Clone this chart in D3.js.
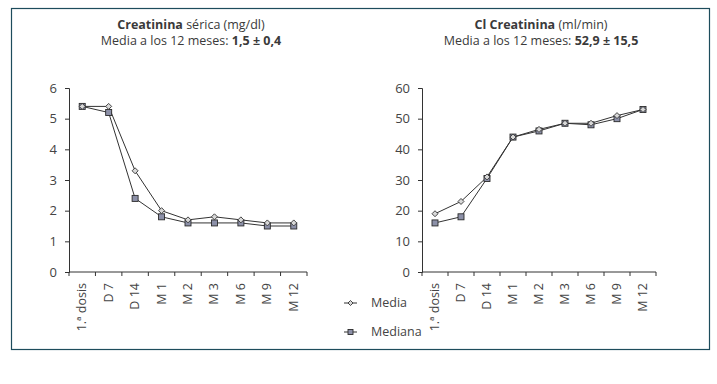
<!DOCTYPE html>
<html>
<head>
<meta charset="utf-8">
<script src="https://cdn.jsdelivr.net/npm/d3@7"></script>
<style>
  body { margin: 0; background: #fff; }
  svg { display: block; font-family: "Open Sans", sans-serif; }
</style>
</head>
<body>
<div id="chart"></div>
<script>
var categories = ["1.ª dosis", "D 7", "D 14", "M 1", "M 2", "M 3", "M 6", "M 9", "M 12"];

var creatMedia   = [5.4, 5.4, 3.3, 2.0, 1.7, 1.8, 1.7, 1.6, 1.6];
var creatMediana = [5.4, 5.2, 2.4, 1.8, 1.6, 1.6, 1.6, 1.5, 1.5];
var creatTicks   = [0, 1, 2, 3, 4, 5, 6];

var clMedia   = [19, 23, 31, 44, 46.5, 48.5, 48.5, 51, 53];
var clMediana = [16, 18, 30.5, 44, 46, 48.5, 48, 50, 53];
var clTicks   = [0, 10, 20, 30, 40, 50, 60];

var width = 717, height = 384;
var textColor = "#3a3a3a";
var lineColor = "#333";

var svg = d3.select("#chart").append("svg")
    .attr("width", width)
    .attr("height", height);

// frame
svg.append("rect")
    .attr("x", 11.5).attr("y", 8.5)
    .attr("width", 698).attr("height", 341)
    .attr("fill", "none")
    .attr("stroke", "#1d4c5c")
    .attr("stroke-width", 1.2);

function drawPanel(opts) {
    var g = svg.append("g");

    var x = d3.scaleBand()
        .domain(categories)
        .range([opts.left, opts.right]);

    var y = d3.scaleLinear()
        .domain([0, opts.max])
        .range([272, 88]);

    // titles
    var t1 = g.append("text")
        .attr("x", opts.titleX).attr("y", 29)
        .attr("text-anchor", "middle")
        .attr("font-size", 12.5)
        .attr("fill", textColor);
    t1.append("tspan").attr("font-weight", "bold").text(opts.titleBold);
    t1.append("tspan").text(opts.titleRest);

    var t2 = g.append("text")
        .attr("x", opts.titleX).attr("y", 45)
        .attr("text-anchor", "middle")
        .attr("font-size", 12.5)
        .attr("fill", textColor);
    t2.append("tspan").text("Media a los 12 meses: ");
    t2.append("tspan").attr("font-weight", "bold").text(opts.titleValue);

    // y axis
    var yAxis = g.append("g")
        .attr("transform", "translate(" + opts.left + ",0)")
        .call(d3.axisLeft(y).tickValues(opts.ticks).tickSize(4).tickPadding(8).tickFormat(d3.format("d")));
    yAxis.select(".domain").attr("stroke", lineColor);
    yAxis.selectAll(".tick line").attr("stroke", lineColor);
    yAxis.selectAll(".tick text")
        .attr("font-size", 13)
        .attr("fill", "#444")
        .attr("font-family", "Open Sans, sans-serif");

    // x axis with ticks on band edges
    var xAxis = g.append("g")
        .attr("transform", "translate(0," + y(0) + ")");
    xAxis.append("line")
        .attr("x1", opts.left).attr("x2", opts.right)
        .attr("stroke", lineColor);
    var edges = categories.map(function(c) { return x(c); }).concat([opts.right]);
    xAxis.selectAll(".xtick").data(edges).enter().append("line")
        .attr("x1", function(d) { return d; })
        .attr("x2", function(d) { return d; })
        .attr("y1", 0).attr("y2", 4)
        .attr("stroke", lineColor);
    xAxis.selectAll(".xlabel").data(categories).enter().append("text")
        .attr("transform", function(d) {
            return "translate(" + (x(d) + x.bandwidth() / 2 + 4) + ",11) rotate(-90)";
        })
        .attr("text-anchor", "end")
        .attr("font-size", 12.5)
        .attr("fill", "#444")
        .text(function(d) { return d; });

    var line = d3.line()
        .x(function(d, i) { return x(categories[i]) + x.bandwidth() / 2; })
        .y(function(d) { return y(d); });

    // Mediana
    g.append("path")
        .datum(opts.mediana)
        .attr("d", line)
        .attr("fill", "none")
        .attr("stroke", lineColor)
        .attr("stroke-width", 1);
    // Media
    g.append("path")
        .datum(opts.media)
        .attr("d", line)
        .attr("fill", "none")
        .attr("stroke", lineColor)
        .attr("stroke-width", 1);

    g.selectAll(".sq").data(opts.mediana).enter().append("rect")
        .attr("x", function(d, i) { return x(categories[i]) + x.bandwidth() / 2 - 3; })
        .attr("y", function(d) { return y(d) - 3; })
        .attr("width", 6).attr("height", 6)
        .attr("fill", "#8c90a8")
        .attr("stroke", "#2a2a2a")
        .attr("stroke-width", 0.9);

    g.selectAll(".dm").data(opts.media).enter().append("path")
        .attr("d", "M0,-3L3,0L0,3L-3,0Z")
        .attr("transform", function(d, i) {
            return "translate(" + (x(categories[i]) + x.bandwidth() / 2) + "," + y(d) + ")";
        })
        .attr("fill", "#d8d8d8")
        .attr("stroke", "#333")
        .attr("stroke-width", 0.9);
}

drawPanel({
    left: 69, right: 307, max: 6, ticks: creatTicks,
    media: creatMedia, mediana: creatMediana,
    titleX: 191, titleBold: "Creatinina", titleRest: " sérica (mg/dl)", titleValue: "1,5 ± 0,4"
});

drawPanel({
    left: 422, right: 656, max: 60, ticks: clTicks,
    media: clMedia, mediana: clMediana,
    titleX: 541, titleBold: "Cl Creatinina", titleRest: " (ml/min)", titleValue: "52,9 ± 15,5"
});

// legend
var legend = svg.append("g");
var legendItems = ["Media", "Mediana"];
var legendY = [303, 332];
legendItems.forEach(function(name, i) {
    var yy = legendY[i];
    legend.append("line")
        .attr("x1", 344).attr("x2", 357)
        .attr("y1", yy).attr("y2", yy)
        .attr("stroke", lineColor);
    if (i === 0) {
        legend.append("path")
            .attr("d", "M0,-2.5L2.5,0L0,2.5L-2.5,0Z")
            .attr("transform", "translate(350.5," + yy + ")")
            .attr("fill", "#d8d8d8")
            .attr("stroke", "#333")
            .attr("stroke-width", 0.9);
    } else {
        legend.append("rect")
            .attr("x", 348).attr("y", yy - 2.5)
            .attr("width", 5).attr("height", 5)
            .attr("fill", "#8c90a8")
            .attr("stroke", "#2a2a2a")
            .attr("stroke-width", 0.9);
    }
    legend.append("text")
        .attr("x", 371).attr("y", yy + 4)
        .attr("font-size", 12.5)
        .attr("fill", "#444")
        .text(name);
});
</script>
</body>
</html>
